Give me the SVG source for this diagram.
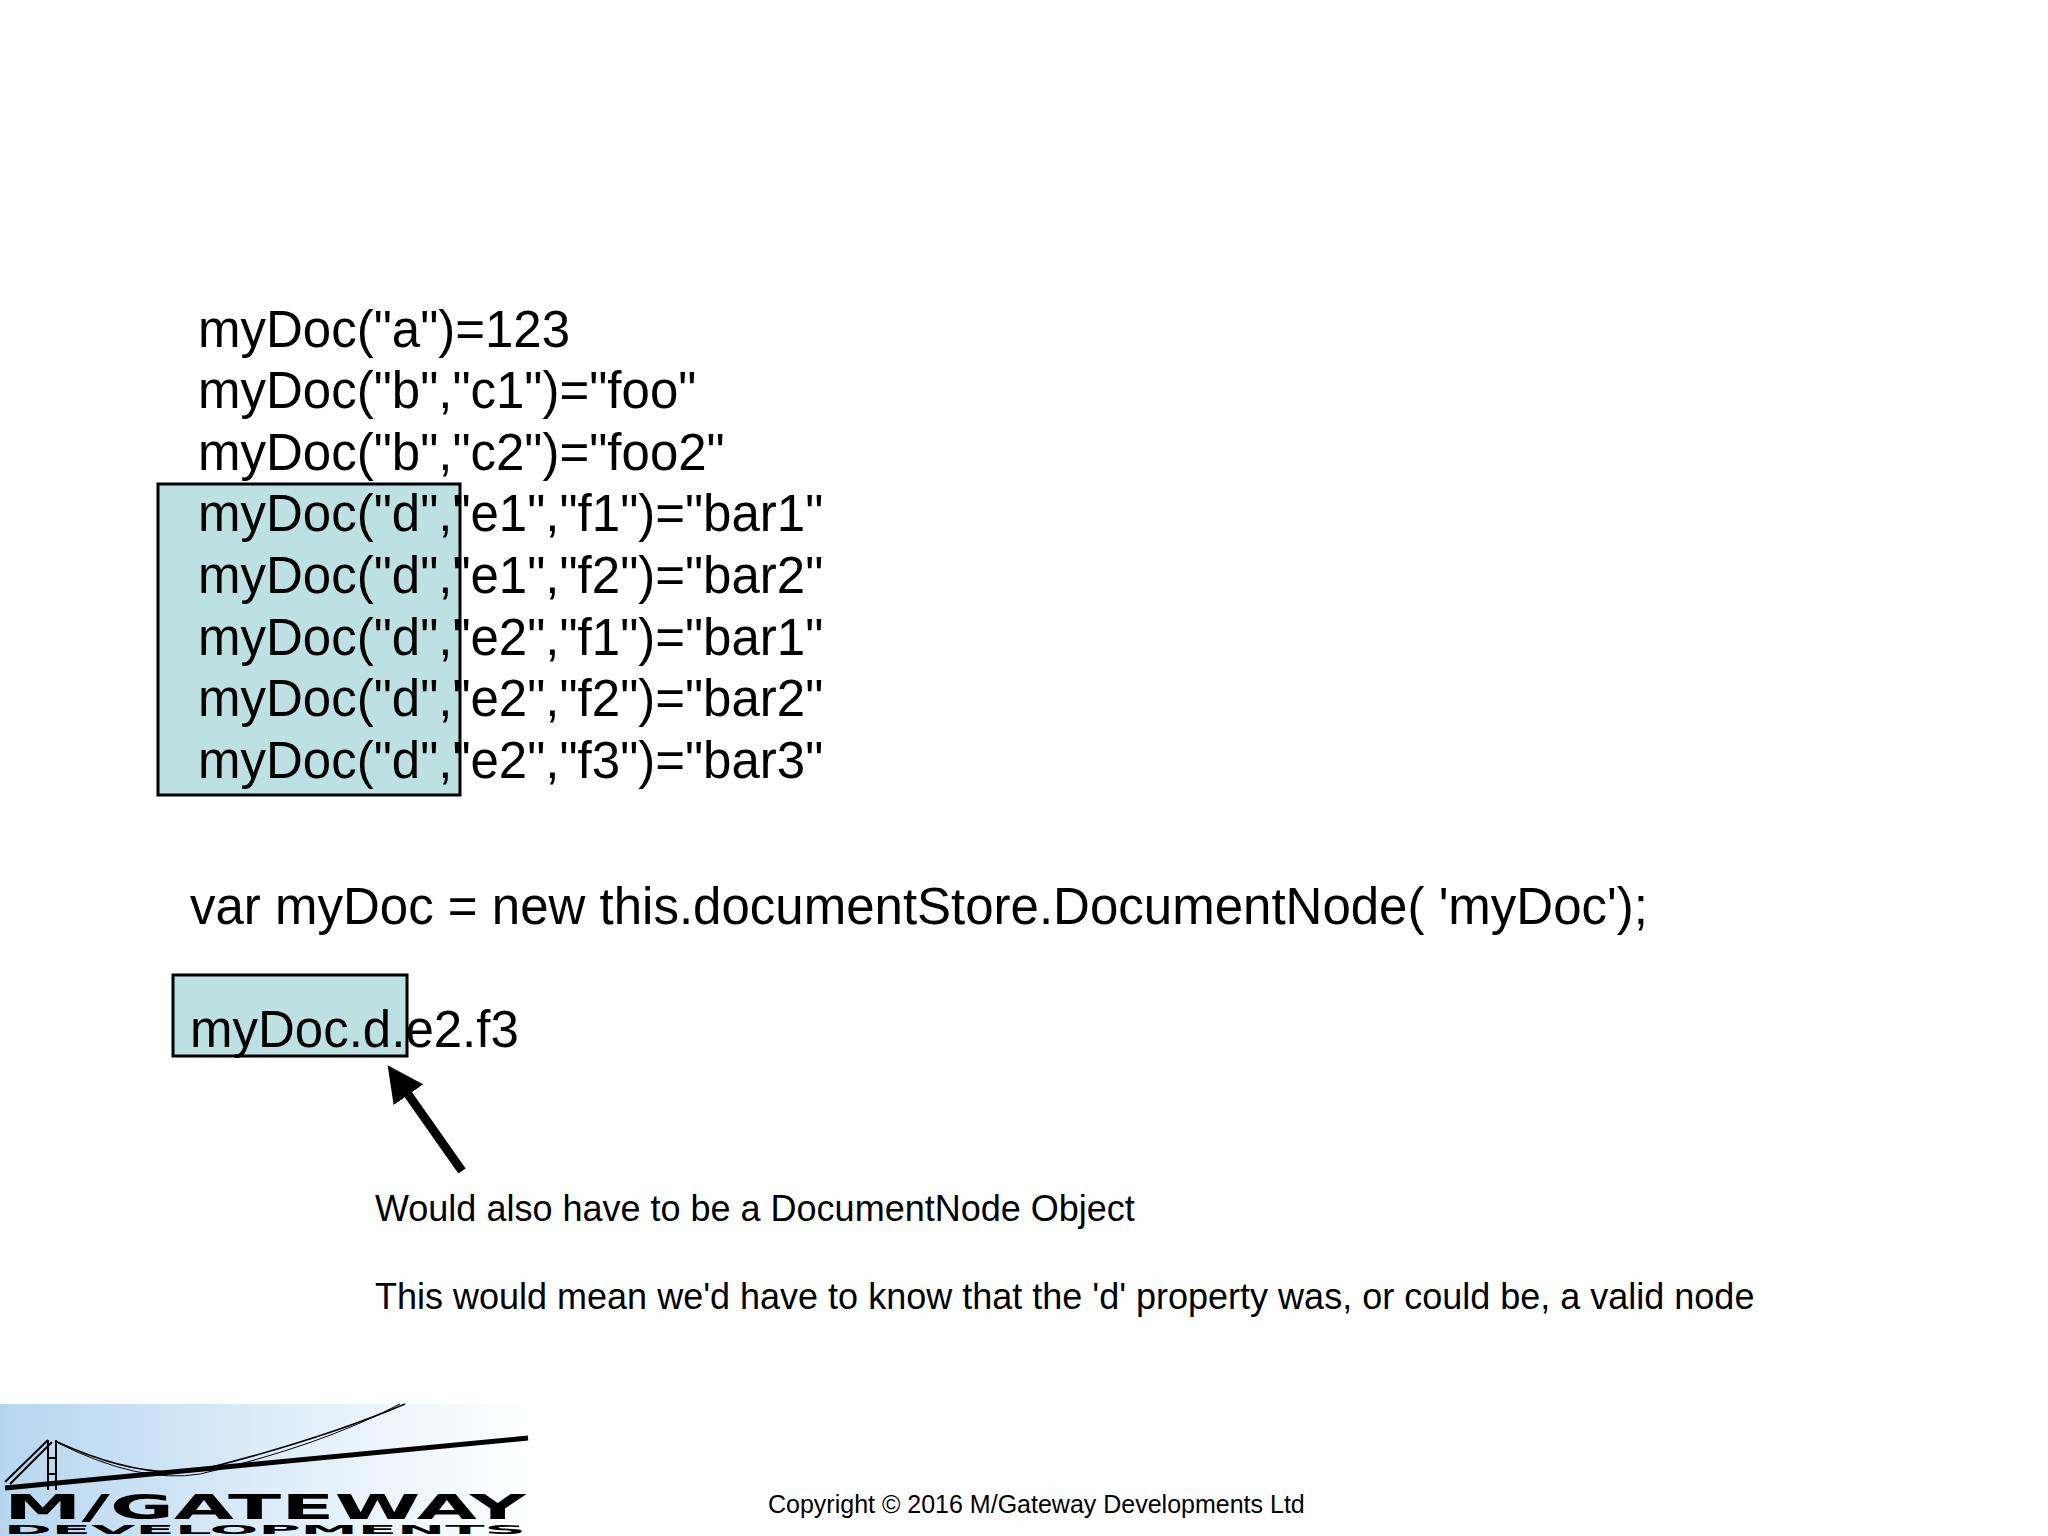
<svg xmlns="http://www.w3.org/2000/svg" width="2048" height="1536" viewBox="0 0 2048 1536">
<style>
.code{font-family:"Liberation Sans",Arial,sans-serif;font-size:51px;fill:#000}
.note{font-family:"Liberation Sans",Arial,sans-serif;font-size:36px;fill:#000}
.hl{fill:#bde0e2;stroke:#000;stroke-width:3}
</style>
<defs>
<linearGradient id="sky" x1="0" y1="0" x2="1" y2="0">
<stop offset="0" stop-color="#b6d6f0"/><stop offset="0.6" stop-color="#e4f0fa"/><stop offset="1" stop-color="#fff"/>
</linearGradient>
<marker id="ah" markerWidth="4" markerHeight="4" refX="2" refY="2" orient="auto" markerUnits="strokeWidth"><path d="M0,0 L4,2 L0,4 z" fill="#000"/></marker>
</defs>
<rect width="2048" height="1536" fill="#fff"/>
<g id="box1"><rect class="hl" x="158" y="484" width="302" height="311"/></g>
<g id="box2"><rect class="hl" x="173" y="975" width="234" height="81"/></g>
<g id="code">
<text class="code" x="198" y="347">myDoc("a")=123</text>
<text class="code" x="198" y="408">myDoc("b","c1")="foo"</text>
<text class="code" x="198" y="470">myDoc("b","c2")="foo2"</text>
<text class="code" x="198" y="531">myDoc("d","e1","f1")="bar1"</text>
<text class="code" x="198" y="593">myDoc("d","e1","f2")="bar2"</text>
<text class="code" x="198" y="655">myDoc("d","e2","f1")="bar1"</text>
<text class="code" x="198" y="716">myDoc("d","e2","f2")="bar2"</text>
<text class="code" x="198" y="778">myDoc("d","e2","f3")="bar3"</text>
<text class="code" x="190" y="924">var myDoc = new this.documentStore.DocumentNode( 'myDoc');</text>
<text class="code" x="190" y="1047">myDoc.d.e2.f3</text>
</g>
<g id="connectors">
<line x1="462" y1="1171" x2="398" y2="1080" stroke="#000" stroke-width="9" marker-end="url(#ah)"/>
</g>
<g id="notes">
<text class="note" x="375" y="1221">Would also have to be a DocumentNode Object</text>
<text class="note" x="375" y="1309">This would mean we'd have to know that the 'd' property was, or could be, a valid node</text>
<text x="768" y="1513" font-family="Liberation Sans,Arial,sans-serif" font-size="25">Copyright © 2016 M/Gateway Developments Ltd</text>
</g>
<g id="logo">
<rect x="0" y="1404" width="530" height="132" fill="url(#sky)"/>
<path d="M55,1441 Q140,1480 200,1470 Q320,1440 405,1404" fill="none" stroke="#000" stroke-width="1.5"/>
<path d="M58,1443 Q140,1484 200,1474 Q320,1446 400,1404" fill="none" stroke="#000" stroke-width="1"/>
<line x1="5" y1="1488" x2="528" y2="1438" stroke="#000" stroke-width="5"/>
<path d="M48,1440 V1490 M56,1440 V1490 M48,1458 H56 M48,1474 H56 M48,1440 L5,1482 M52,1442 L10,1484" stroke="#000" stroke-width="2" fill="none"/>
<text x="4" y="1519" font-family="DejaVu Sans,sans-serif" font-weight="bold" font-size="34" textLength="522" lengthAdjust="spacingAndGlyphs">M/GATEWAY</text>
<text x="4" y="1534" font-family="DejaVu Sans,sans-serif" font-weight="bold" font-size="13" textLength="522" lengthAdjust="spacingAndGlyphs">DEVELOPMENTS</text>
</g>
</svg>
